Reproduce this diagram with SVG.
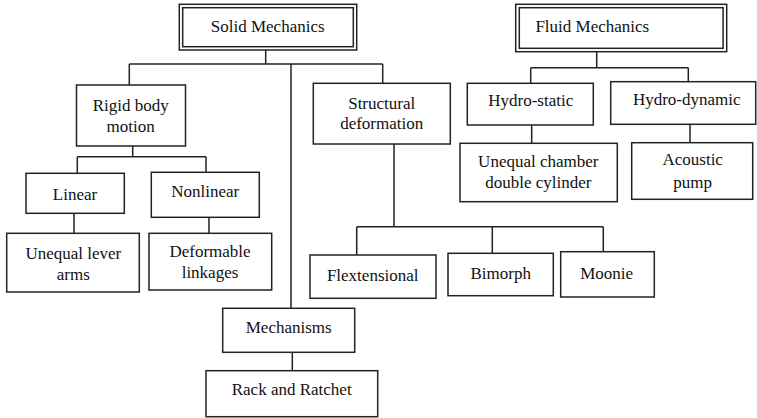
<svg xmlns="http://www.w3.org/2000/svg" width="757" height="418" viewBox="0 0 757 418">
<defs>
<rect id="bg" width="757" height="418" fill="#fff"/>
</defs>
<use href="#bg"/>
<g id="connectors" fill="none" stroke="#222" stroke-width="1.5">
<path d="M265.7 50V64M129.3 64H382.7M129.3 64V85M382.7 64V83.3M291 64V308.3"/>
<path d="M132.7 146V156.7M77.3 156.7H206M77.3 156.7V173.3M206 156.7V172.3"/>
<path d="M74 213.3V233.3M209 217.3V233.3"/>
<path d="M292.3 352.3V370.7"/>
<path d="M394 144V226.7M356.7 226.7H603.3M356.7 226.7V255M492.3 226.7V253.3M603.3 226.7V251.7"/>
<path d="M596.7 51.7V67.7M530.7 67.7H688.3M530.7 67.7V83.3M688.3 67.7V81.7"/>
<path d="M531.7 125V143.3M690 124.3V142.7"/>
</g>
<g id="nodes" stroke="#222" stroke-width="1.5" fill="#fff">
<g id="solid">
<rect x="179.3" y="4.3" width="177.4" height="45.7"/>
<rect x="182.7" y="7.7" width="170.6" height="39" fill="none"/>
</g>
<g id="fluid">
<rect x="515.7" y="4.3" width="211" height="47.4"/>
<rect x="519.3" y="7.7" width="203.8" height="40.6" fill="none"/>
</g>
<g id="rigid"><rect x="76.5" y="85" width="109" height="61"/></g>
<g id="structural"><rect x="313.3" y="83.3" width="137" height="60.7"/></g>
<g id="linear"><rect x="26" y="173.3" width="98.3" height="40"/></g>
<g id="nonlinear"><rect x="151.3" y="172.3" width="108" height="45"/></g>
<g id="unequal-lever"><rect x="6.7" y="233.3" width="132.6" height="58.7"/></g>
<g id="deformable"><rect x="149" y="233.3" width="122.7" height="56.7"/></g>
<g id="mechanisms"><rect x="222.7" y="308.3" width="132" height="44"/></g>
<g id="rack"><rect x="206" y="370.7" width="171.7" height="46"/></g>
<g id="flextensional"><rect x="310" y="255" width="126" height="43.3"/></g>
<g id="bimorph"><rect x="448" y="253.3" width="105.3" height="42.4"/></g>
<g id="moonie"><rect x="560.7" y="251.7" width="93.6" height="45.3"/></g>
<g id="hydrostatic"><rect x="467.3" y="83.3" width="126" height="41.7"/></g>
<g id="hydrodynamic"><rect x="610.7" y="81.7" width="145" height="42.6"/></g>
<g id="unequal-chamber"><rect x="460" y="143.3" width="157.3" height="58.4"/></g>
<g id="acoustic"><rect x="631.7" y="142.7" width="121" height="56.6"/></g>
</g>
<g id="labels" font-family="Liberation Serif" font-size="17" fill="#111" text-anchor="middle">
<text x="267.7" y="32">Solid Mechanics</text>
<text x="592.3" y="31.7">Fluid Mechanics</text>
<text x="130.7" y="111">Rigid body</text>
<text x="130.7" y="131.5">motion</text>
<text x="381.7" y="109">Structural</text>
<text x="381.7" y="129">deformation</text>
<text x="75" y="200">Linear</text>
<text x="205.3" y="197.3">Nonlinear</text>
<text x="73.3" y="259.3">Unequal lever</text>
<text x="73.3" y="280">arms</text>
<text x="210" y="257.3">Deformable</text>
<text x="210" y="278.3">linkages</text>
<text x="288.7" y="333.3">Mechanisms</text>
<text x="291.7" y="395">Rack and Ratchet</text>
<text x="372.7" y="280.7">Flextensional</text>
<text x="500.7" y="279">Bimorph</text>
<text x="606.7" y="279">Moonie</text>
<text x="530.7" y="106">Hydro-static</text>
<text x="686.7" y="105.3">Hydro-dynamic</text>
<text x="538.3" y="166.7">Unequal chamber</text>
<text x="538.3" y="188.3">double cylinder</text>
<text x="692.7" y="165">Acoustic</text>
<text x="692.7" y="187.7">pump</text>
</g>
</svg>
